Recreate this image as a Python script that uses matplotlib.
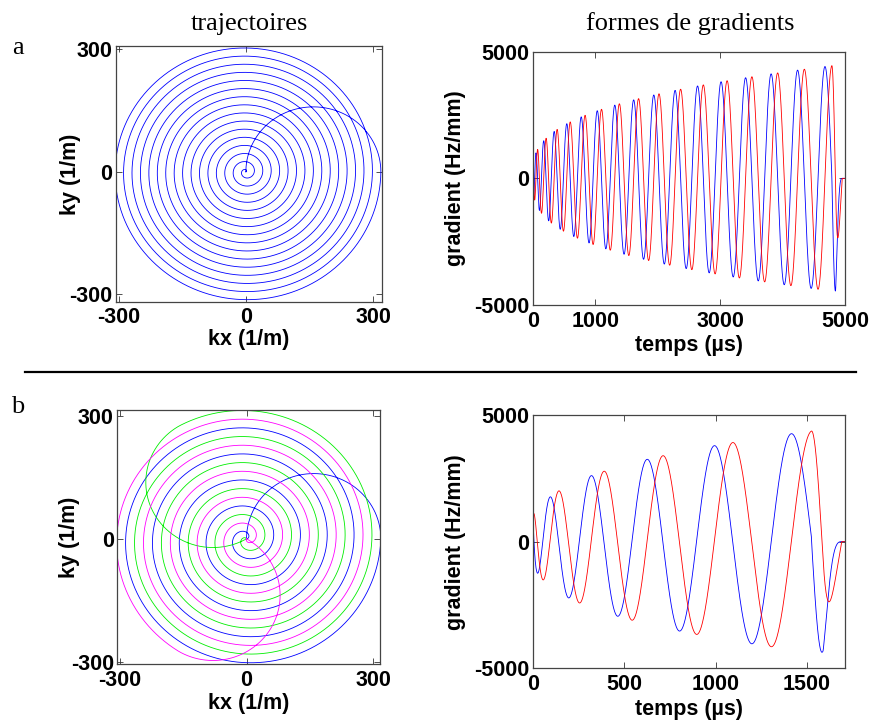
import numpy as np
import matplotlib
matplotlib.use('Agg')
import matplotlib.pyplot as plt

# ---------------- data ----------------
K_MAX = [318.0]                      # 1/m, outer radius of the spiral
TURNS = [16, 5]                      # turns per interleave, rows a and b
INTERLEAVES = [1, 3]                 # number of interleaves, rows a and b
SPIRAL_END_US = [4790.0, 1525.0]     # end of the spiral read-out (us)
REWIND_US = [165.0, 165.0]           # duration of the rewinder arc (us)
TIME_END_US = [5000.0, 1708.0]       # end of the gradient time axis (us)
TRAJ_COLORS = ['#0000ff', '#00ee00', '#ff00ff']
GX_COLOR = '#0000ff'
GY_COLOR = '#ff0000'
ROW_LABELS = ['a', 'b']
COL_TITLES = ['trajectoires', 'formes de gradients']
K_TICKS = [-300, 0, 300]
G_TICKS = [-5000, 0, 5000]
T_TICKS = [[0, 1000, 3000, 5000], [0, 500, 1000, 1500]]
K_LIMS = [((-306, 320), (-318, 308)), ((-306, 316), (-306, 314))]
G_LIM = (-5000, 5000)

plt.rcParams['axes.unicode_minus'] = False

SANS = ['Liberation Sans', 'DejaVu Sans']
SERIF = ['Liberation Serif', 'DejaVu Serif']
FS = 15.5


def trajectory(n_turns, t_spiral, rewind, t_end, kmax, dt=1.0):
    """Archimedean spiral (theta ~ t^(2/3)) followed by a semicircular rewinder."""
    t1 = np.arange(0.0, t_spiral + dt / 2, dt)
    theta_max = 2 * np.pi * n_turns
    theta = theta_max * (t1 / t_spiral) ** (2.0 / 3.0)
    r = kmax * theta / theta_max
    k1 = r * np.exp(1j * theta)
    v0 = abs(k1[-1] - k1[-2]) / dt
    R = kmax / 2.0
    L = np.pi * R
    tr = 2.0 * (rewind - L / v0)
    tc = rewind - tr
    tau = np.arange(dt, rewind + dt / 2, dt)
    s = np.where(tau <= tc, v0 * tau,
                 v0 * tc + v0 * (tau - tc) - 0.5 * v0 / tr * (tau - tc) ** 2)
    s = np.clip(s, 0, L)
    phi = s / R
    k2 = R + R * np.exp(1j * phi)
    t2 = t_spiral + tau
    t3 = np.arange(t2[-1] + dt, t_end + dt / 2, dt)
    k3 = np.zeros_like(t3, dtype=complex)
    t = np.concatenate([t1, t2, t3])
    k = np.concatenate([k1, k2, k3])
    return t, k


fig = plt.figure(figsize=(8.72, 7.25), dpi=100)
W, H = 872.0, 725.0


def box(l, r, t, b):
    return [l / W, 1 - b / H, (r - l) / W, (b - t) / H]


traj_boxes = [box(116, 381.7, 46, 301.7), box(117.3, 380, 410, 664.3)]
grad_boxes = [box(532.7, 845, 51.7, 305), box(532.7, 845, 415, 668.3)]

# label centres in pixels: (xlabel centre y, ylabel centre x)
traj_label_pos = [(340, 70), (703, 70)]
grad_label_pos = [(345, 455), (710, 455)]


def style(ax):
    ax.tick_params(axis='both', direction='in', length=4, width=0.6, top=True,
                   right=True, labelsize=FS, colors='#333333', labelcolor='black')
    ax.tick_params(axis='x', pad=4)
    ax.tick_params(axis='y', pad=2.5)
    for lab in ax.get_xticklabels() + ax.get_yticklabels():
        lab.set_family(SANS)
        lab.set_fontweight('bold')
    for sp in ax.spines.values():
        sp.set_linewidth(0.9)
        sp.set_color('#444444')


def place_labels(ax, bx, xl, yl, xlab_y, ylab_x):
    l, b, w, h = bx
    ax.set_xlabel(xl, family=SANS, size=FS, weight='bold', va='center')
    ax.set_ylabel(yl, family=SANS, size=FS, weight='bold', va='center')
    left_px, right_px = l * W, (l + w) * W
    bottom_px, top_px = (1 - b) * H, (1 - b - h) * H
    ax.xaxis.set_label_coords(0.5, (bottom_px - xlab_y) / (bottom_px - top_px))
    ax.yaxis.set_label_coords((ylab_x - left_px) / (right_px - left_px), 0.5)


for row in range(2):
    t, k = trajectory(TURNS[row], SPIRAL_END_US[row], REWIND_US[row],
                      TIME_END_US[row], K_MAX[0])
    # trajectories
    ax = fig.add_axes(traj_boxes[row])
    for j in range(INTERLEAVES[row]):
        kj = k * np.exp(1j * 2 * np.pi * j / INTERLEAVES[row])
        ax.plot(kj.real, kj.imag, color=TRAJ_COLORS[j], lw=0.6)
    ax.set_xlim(*K_LIMS[row][0])
    ax.set_ylim(*K_LIMS[row][1])
    ax.set_xticks(K_TICKS)
    ax.set_yticks(K_TICKS)
    style(ax)
    place_labels(ax, traj_boxes[row], 'kx (1/m)', 'ky (1/m)', *traj_label_pos[row])

    # gradients
    g = np.gradient(k, t) * 1000.0   # (1/m)/us -> Hz/mm
    ax2 = fig.add_axes(grad_boxes[row])
    ax2.plot(t, g.real, color=GX_COLOR, lw=0.6)
    ax2.plot(t, g.imag, color=GY_COLOR, lw=0.6)
    ax2.set_xlim(0, TIME_END_US[row])
    ax2.set_ylim(*G_LIM)
    ax2.set_xticks(T_TICKS[row])
    ax2.set_yticks(G_TICKS)
    style(ax2)
    place_labels(ax2, grad_boxes[row], 'temps (µs)', 'gradient (Hz/mm)',
                 *grad_label_pos[row])

# column titles and row labels
fig.text(249 / W, 1 - 24 / H, COL_TITLES[0], ha='center', va='center',
         family=SERIF, size=19)
fig.text(690 / W, 1 - 24 / H, COL_TITLES[1], ha='center', va='center',
         family=SERIF, size=19)
fig.text(18 / W, 1 - 48 / H, ROW_LABELS[0], ha='center', va='center',
         family=SERIF, size=19)
fig.text(18 / W, 1 - 407 / H, ROW_LABELS[1], ha='center', va='center',
         family=SERIF, size=19)

# separator line
fig.add_artist(plt.Line2D([25 / W, 856 / W], [1 - 372 / H, 1 - 372 / H],
                          color='black', lw=1.6, transform=fig.transFigure))

fig.savefig('out.png', dpi=100, facecolor='white')
